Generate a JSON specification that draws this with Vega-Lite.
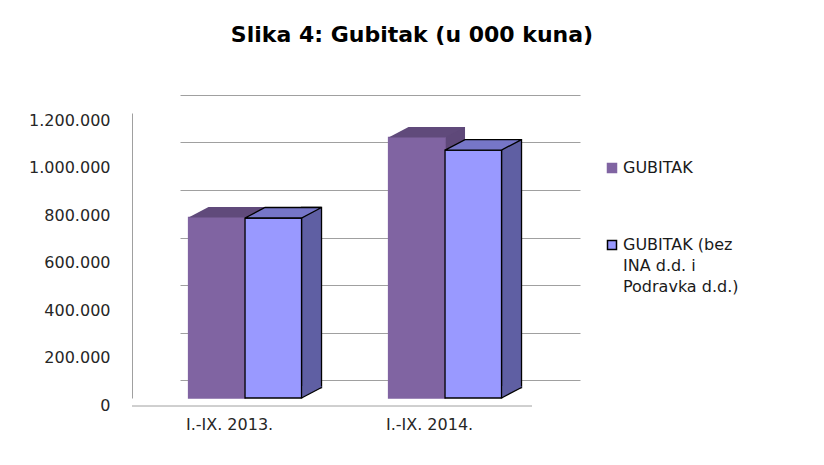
{
  "$schema": "https://vega.github.io/schema/vega-lite/v6.json",
  "width": 400,
  "height": 285,
  "autosize": {"type": "none"},
  "padding": {"left": 180, "top": 113, "right": 244, "bottom": 67},
  "background": "white",
  "title": {
    "text": "Slika 4: Gubitak (u 000 kuna)",
    "font": "DejaVu Sans",
    "fontSize": 22,
    "fontWeight": "bold",
    "color": "#000000",
    "anchor": "middle",
    "frame": "group",
    "dx": 32,
    "offset": 65
  },
  "config": {"view": {"stroke": null}, "style": {"guide-label": {"lineHeight": 21}}},
  "data": {
    "values": [
      {"period": "I.-IX. 2013.", "series": "GUBITAK", "value": 760000},
      {"period": "I.-IX. 2013.", "series": "GUBITAK (bez INA d.d. i Podravka d.d.)", "value": 758000},
      {"period": "I.-IX. 2014.", "series": "GUBITAK", "value": 1097000},
      {"period": "I.-IX. 2014.", "series": "GUBITAK (bez INA d.d. i Podravka d.d.)", "value": 1044000}
    ]
  },
  "encoding": {
    "x": {
      "field": "period",
      "type": "nominal",
      "title": null,
      "scale": {"paddingInner": 0.435, "paddingOuter": 0.2175, "align": 0.098},
      "axis": {
        "domain": true,
        "domainColor": "#A0A0A0",
        "ticks": false,
        "tickSize": 0,
        "grid": false,
        "labelAngle": 0,
        "labelFont": "DejaVu Sans",
        "labelFontSize": 16,
        "labelColor": "#262626",
        "labelPadding": 11,
        "offset": 56,
        "translate": -48,
        "labelOffset": 33
      }
    },
    "y": {
      "field": "value",
      "type": "quantitative",
      "title": null,
      "scale": {"domain": [0, 1200000], "nice": false},
      "axis": {
        "values": [0, 200000, 400000, 600000, 800000, 1000000, 1200000],
        "grid": true,
        "gridColor": "#A0A0A0",
        "gridWidth": 1,
        "tickOffset": -18,
        "labelOffset": 25,
        "offset": 48,
        "domain": true,
        "domainColor": "#A0A0A0",
        "ticks": false,
        "tickSize": 0,
        "labelPadding": 22,
        "labelFont": "DejaVu Sans",
        "labelFontSize": 16,
        "labelColor": "#262626",
        "labelExpr": "replace(format(datum.value, ','), regexp(',', 'g'), '.')"
      }
    }
  },
  "layer": [
    {
      "transform": [{"filter": "datum.series === 'GUBITAK'"}],
      "mark": {"type": "bar", "width": 20, "xOffset": 10, "yOffset": -10.5, "y2Offset": -10.5, "fill": "#5E4879", "strokeWidth": 0}
    },
    {
      "transform": [{"filter": "datum.series !== 'GUBITAK'"}],
      "mark": {"type": "bar", "width": 20, "xOffset": 66.5, "yOffset": -10.5, "y2Offset": -10.5, "fill": "#5F5FA3", "stroke": "#000000", "strokeWidth": 1.3}
    },
    {
      "transform": [{"filter": "datum.series !== 'GUBITAK'"}],
      "mark": {"type": "point", "shape": "M28.25,-12L48.25,-12L48.25,-10.5L28.25,0Z", "size": 4, "filled": true, "opacity": 1, "strokeWidth": 0, "fill": "#5F5FA3"},
      "encoding": {
        "xOffset": {"field": "series", "type": "nominal", "sort": ["GUBITAK", "GUBITAK (bez INA d.d. i Podravka d.d.)"], "scale": {"domain": ["GUBITAK", "GUBITAK (bez INA d.d. i Podravka d.d.)"], "paddingInner": 0, "paddingOuter": 0}},
        "y": {"datum": 0, "type": "quantitative"}
      }
    },
    {
      "transform": [{"filter": "datum.series !== 'GUBITAK'"}],
      "mark": {"type": "point", "shape": "M28.25,0L48.25,-10.5", "size": 4, "filled": false, "opacity": 1, "strokeWidth": 1.3, "stroke": "#000000"},
      "encoding": {
        "xOffset": {"field": "series", "type": "nominal", "sort": ["GUBITAK", "GUBITAK (bez INA d.d. i Podravka d.d.)"], "scale": {"domain": ["GUBITAK", "GUBITAK (bez INA d.d. i Podravka d.d.)"], "paddingInner": 0, "paddingOuter": 0}},
        "y": {"datum": 0, "type": "quantitative"}
      }
    },
    {
      "mark": {"type": "bar", "strokeWidth": 1.3},
      "encoding": {
        "xOffset": {"field": "series", "type": "nominal", "sort": ["GUBITAK", "GUBITAK (bez INA d.d. i Podravka d.d.)"], "scale": {"domain": ["GUBITAK", "GUBITAK (bez INA d.d. i Podravka d.d.)"], "paddingInner": 0, "paddingOuter": 0}},
        "fill": {
          "field": "series",
          "type": "nominal",
          "title": null,
          "scale": {"domain": ["GUBITAK", "GUBITAK (bez INA d.d. i Podravka d.d.)"], "range": ["#8064A2", "#9999FF"]},
          "legend": {
            "orient": "none",
            "legendX": 424,
            "legendY": 47,
            "symbolType": "square",
            "symbolSize": 81,
            "symbolStrokeWidth": 1.5,
            "labelFont": "DejaVu Sans",
            "labelFontSize": 16,
            "labelColor": "#1a1a1a",
            "labelBaseline": "middle",
            "labelOffset": 3,
            "labelLimit": 300,
            "rowPadding": 61,
            "labelExpr": "datum.value === 'GUBITAK' ? 'GUBITAK' : ['GUBITAK (bez', 'INA d.d. i', 'Podravka d.d.)']"
          }
        },
        "stroke": {
          "field": "series",
          "type": "nominal",
          "title": null,
          "scale": {"domain": ["GUBITAK", "GUBITAK (bez INA d.d. i Podravka d.d.)"], "range": ["#8064A2", "#000000"]},
          "legend": {
            "orient": "none",
            "legendX": 424,
            "legendY": 47,
            "symbolType": "square",
            "symbolSize": 81,
            "symbolStrokeWidth": 1.5,
            "labelFont": "DejaVu Sans",
            "labelFontSize": 16,
            "labelColor": "#1a1a1a",
            "labelBaseline": "middle",
            "labelOffset": 3,
            "labelLimit": 300,
            "rowPadding": 61,
            "labelExpr": "datum.value === 'GUBITAK' ? 'GUBITAK' : ['GUBITAK (bez', 'INA d.d. i', 'Podravka d.d.)']"
          }
        }
      }
    },
    {
      "mark": {"type": "point", "shape": "M-28.25,0L28.25,0L48.25,-10.5L-8.25,-10.5Z", "size": 4, "filled": true, "opacity": 1, "strokeWidth": 1.3},
      "encoding": {
        "xOffset": {"field": "series", "type": "nominal", "sort": ["GUBITAK", "GUBITAK (bez INA d.d. i Podravka d.d.)"], "scale": {"domain": ["GUBITAK", "GUBITAK (bez INA d.d. i Podravka d.d.)"], "paddingInner": 0, "paddingOuter": 0}},
        "fill": {"condition": {"test": "datum.series === 'GUBITAK'", "value": "#604A7B"}, "value": "#7676C8"},
        "stroke": {"condition": {"test": "datum.series === 'GUBITAK'", "value": "transparent"}, "value": "#000000"}
      }
    }
  ]
}
